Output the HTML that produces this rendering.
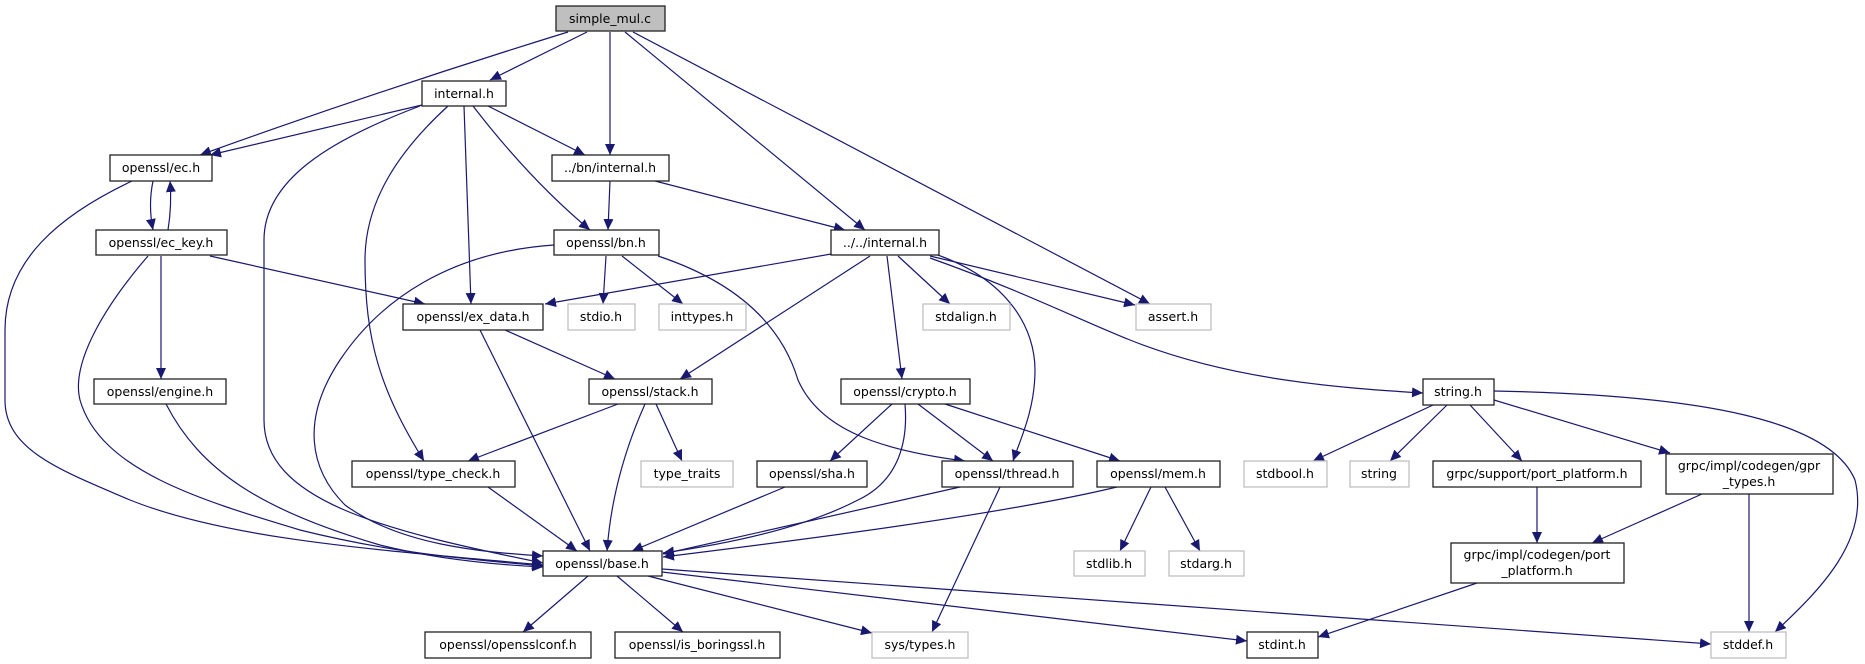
<!DOCTYPE html>
<html><head><meta charset="utf-8"><style>
html,body{margin:0;padding:0;background:#fff;}
svg{display:block;}
text{font-family:"DejaVu Sans","Liberation Sans",sans-serif;font-size:12.5px;fill:#000;text-anchor:middle;}
.n{fill:#fff;stroke:#222;stroke-width:1.3;}
.g{fill:#fff;stroke:#bfbfbf;stroke-width:1.3;}
.e{fill:none;stroke:#191970;stroke-width:1.2;}
</style></head><body>
<svg width="1865" height="664" viewBox="0 0 1865 664" xmlns="http://www.w3.org/2000/svg">
<defs><marker id="a" markerUnits="userSpaceOnUse" markerWidth="12" markerHeight="10" refX="11" refY="5" orient="auto"><path d="M0,0 L11,5 L0,10 Z" fill="#191970"/></marker></defs>
<g marker-end="url(#a)">
<path class="e" d="M568,32 Q380,90 200,155"/>
<path class="e" d="M587,32 L490,80"/>
<path class="e" d="M610,32 L610,155"/>
<path class="e" d="M625,32 L865,230"/>
<path class="e" d="M633,32 L1150,304"/>
<path class="e" d="M422,105 L210,155"/>
<path class="e" d="M420,106 C330,140 264,180 264,240 L264,420 C264,500 380,530 543,563"/>
<path class="e" d="M448,106 C400,150 365,200 365,260 C365,340 380,390 424,461"/>
<path class="e" d="M464,106 L471,304"/>
<path class="e" d="M473,106 Q530,180 590,230"/>
<path class="e" d="M488,106 L585,155"/>
<path class="e" d="M153,181 Q148,205 153,230"/>
<path class="e" d="M168,230 Q172,205 170,181"/>
<path class="e" d="M132,181 C60,215 5,260 5,330 L5,400 C5,450 60,470 130,500 C230,540 380,550 543,565"/>
<path class="e" d="M148,256 C110,300 70,360 80,400 C100,470 200,500 300,530 C400,555 480,560 543,566"/>
<path class="e" d="M161,256 L161,379"/>
<path class="e" d="M210,256 L425,304"/>
<path class="e" d="M166,404 C200,470 260,510 380,545 C440,560 500,565 543,567"/>
<path class="e" d="M610,181 L608,230"/>
<path class="e" d="M655,181 L845,230"/>
<path class="e" d="M554,245 C450,252 380,300 340,360 C300,420 310,470 345,505 C400,545 480,552 543,556"/>
<path class="e" d="M606,256 L603,304"/>
<path class="e" d="M622,256 L683,304"/>
<path class="e" d="M658,256 C730,280 780,320 798,380 C820,430 880,450 965,461"/>
<path class="e" d="M831,254 L545,304"/>
<path class="e" d="M870,256 L680,379"/>
<path class="e" d="M887,256 L902,379"/>
<path class="e" d="M898,256 L950,304"/>
<path class="e" d="M930,256 L1135,305"/>
<path class="e" d="M935,254 C1010,280 1035,330 1035,370 C1035,410 1020,440 1013,461"/>
<path class="e" d="M930,258 C1020,290 1080,320 1130,340 C1230,380 1340,388 1423,393"/>
<path class="e" d="M505,330 L615,379"/>
<path class="e" d="M480,330 L590,551"/>
<path class="e" d="M618,404 L468,461"/>
<path class="e" d="M645,404 C620,460 610,510 607,551"/>
<path class="e" d="M656,404 L682,461"/>
<path class="e" d="M488,487 L577,551"/>
<path class="e" d="M892,404 L830,461"/>
<path class="e" d="M905,404 C908,440 900,480 858,500 C800,530 720,545 663,553"/>
<path class="e" d="M918,404 L993,461"/>
<path class="e" d="M945,404 L1120,461"/>
<path class="e" d="M785,487 L632,551"/>
<path class="e" d="M960,487 L663,554"/>
<path class="e" d="M1000,487 L932,632"/>
<path class="e" d="M1117,487 C1000,515 800,540 663,557"/>
<path class="e" d="M1151,487 L1120,551"/>
<path class="e" d="M1165,487 L1200,551"/>
<path class="e" d="M588,576 L523,632"/>
<path class="e" d="M617,576 L683,632"/>
<path class="e" d="M648,576 L872,633"/>
<path class="e" d="M662,572 L1247,641"/>
<path class="e" d="M662,569 L1711,644"/>
<path class="e" d="M1433,405 L1313,461"/>
<path class="e" d="M1447,405 L1390,461"/>
<path class="e" d="M1470,405 L1522,461"/>
<path class="e" d="M1494,400 L1670,453"/>
<path class="e" d="M1494,391 C1700,395 1830,420 1855,480 C1870,540 1820,590 1775,632"/>
<path class="e" d="M1537,487 L1537,543"/>
<path class="e" d="M1702,494 L1592,543"/>
<path class="e" d="M1749,494 L1749,632"/>
<path class="e" d="M1477,583 L1318,637"/>
</g>
<rect x="556" y="6" width="109" height="25" fill="#bfbfbf" stroke="#222" stroke-width="1.3"/><text x="610" y="23">simple_mul.c</text>
<rect class="n" x="422" y="81" width="84" height="25"/><text x="464" y="98">internal.h</text>
<rect class="n" x="110" y="155" width="102" height="26"/><text x="161" y="172">openssl/ec.h</text>
<rect class="n" x="552" y="155" width="117" height="26"/><text x="610" y="172">../bn/internal.h</text>
<rect class="n" x="96" y="230" width="131" height="25"/><text x="161" y="247">openssl/ec_key.h</text>
<rect class="n" x="554" y="230" width="105" height="25"/><text x="606" y="247">openssl/bn.h</text>
<rect class="n" x="831" y="230" width="108" height="25"/><text x="885" y="247">../../internal.h</text>
<rect class="n" x="403" y="304" width="140" height="26"/><text x="473" y="321">openssl/ex_data.h</text>
<rect class="g" x="568" y="304" width="67" height="26"/><text x="601" y="321">stdio.h</text>
<rect class="g" x="659" y="304" width="87" height="26"/><text x="702" y="321">inttypes.h</text>
<rect class="g" x="923" y="304" width="87" height="26"/><text x="966" y="321">stdalign.h</text>
<rect class="g" x="1136" y="304" width="75" height="26"/><text x="1173" y="321">assert.h</text>
<rect class="n" x="94" y="379" width="132" height="25"/><text x="160" y="396">openssl/engine.h</text>
<rect class="n" x="589" y="379" width="123" height="25"/><text x="650" y="396">openssl/stack.h</text>
<rect class="n" x="841" y="379" width="129" height="25"/><text x="905" y="396">openssl/crypto.h</text>
<rect class="n" x="1423" y="379" width="71" height="26"/><text x="1458" y="396">string.h</text>
<rect class="n" x="352" y="461" width="163" height="26"/><text x="433" y="478">openssl/type_check.h</text>
<rect class="g" x="641" y="461" width="92" height="26"/><text x="687" y="478">type_traits</text>
<rect class="n" x="757" y="461" width="110" height="26"/><text x="812" y="478">openssl/sha.h</text>
<rect class="n" x="942" y="461" width="131" height="26"/><text x="1007" y="478">openssl/thread.h</text>
<rect class="n" x="1097" y="461" width="123" height="26"/><text x="1158" y="478">openssl/mem.h</text>
<rect class="g" x="1244" y="461" width="83" height="26"/><text x="1285" y="478">stdbool.h</text>
<rect class="g" x="1350" y="461" width="59" height="26"/><text x="1379" y="478">string</text>
<rect class="n" x="1433" y="461" width="208" height="26"/><text x="1537" y="478">grpc/support/port_platform.h</text>
<rect class="n" x="1666" y="454" width="167" height="40"/><text x="1749" y="470">grpc/impl/codegen/gpr</text><text x="1749" y="486">_types.h</text>
<rect class="n" x="543" y="551" width="119" height="25"/><text x="602" y="568">openssl/base.h</text>
<rect class="g" x="1074" y="551" width="71" height="25"/><text x="1109" y="568">stdlib.h</text>
<rect class="g" x="1169" y="551" width="75" height="25"/><text x="1206" y="568">stdarg.h</text>
<rect class="n" x="1451" y="543" width="173" height="40"/><text x="1537" y="559">grpc/impl/codegen/port</text><text x="1537" y="575">_platform.h</text>
<rect class="n" x="425" y="632" width="166" height="26"/><text x="508" y="649">openssl/opensslconf.h</text>
<rect class="n" x="615" y="632" width="165" height="26"/><text x="697" y="649">openssl/is_boringssl.h</text>
<rect class="g" x="872" y="632" width="96" height="26"/><text x="920" y="649">sys/types.h</text>
<rect class="n" x="1247" y="632" width="71" height="26"/><text x="1282" y="649">stdint.h</text>
<rect class="g" x="1711" y="632" width="75" height="26"/><text x="1748" y="649">stddef.h</text>
</svg>
</body></html>
